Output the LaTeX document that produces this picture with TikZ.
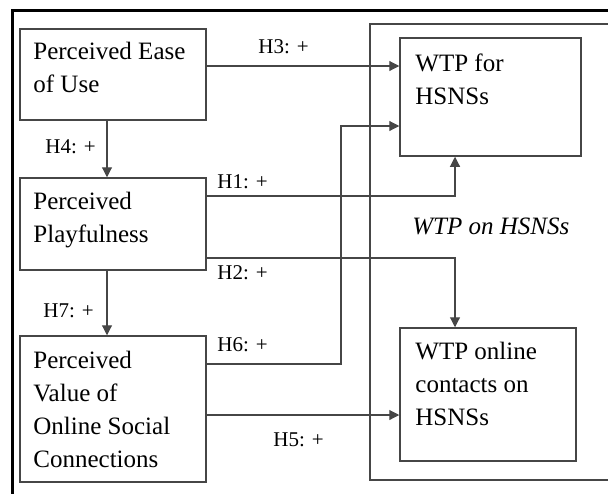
\documentclass[tikz,border=0pt]{standalone}
\usepackage{fontspec}
\setmainfont{Liberation Serif}
\usepackage{tikz}
\usetikzlibrary{arrows.meta, positioning, calc}
\definecolor{wtpline}{RGB}{70,70,70}

\tikzset{
  box/.style={draw=wtpline, line width=0.75pt, inner sep=0pt},
  txt/.style={inner sep=0pt, anchor=north west, align=left,
              font=\fontsize{12.5}{16.5}\selectfont},
  hyp/.style={inner sep=0pt, anchor=base west, font=\fontsize{10.5}{12}\selectfont},
  arr/.style={draw=wtpline, line width=0.55pt, -{Triangle[length=5pt,width=5pt]}}
}

\begin{document}
\begin{tikzpicture}[x=0.5pt, y=-0.5pt]
  \useasboundingbox (0,0) rectangle (608,493);
  \clip (0,0) rectangle (608,493);
  % outer frame and the WTP block
  \draw[line width=1.5pt, black] (12,10) rectangle (660,540);
  \draw[wtpline, line width=0.75pt] (370,24) rectangle (640,480);

  % constructs
  \node[box, minimum width=93pt, minimum height=45.5pt] (peu) at (113,74.5) {};
  \node[box, minimum width=93pt, minimum height=46pt] (pp) at (113,224) {};
  \node[box, minimum width=93pt, minimum height=73pt] (pvo) at (113,409) {};
  \node[box, minimum width=90.5pt, minimum height=59pt] (wfh) at (490.5,97) {};
  \node[box, minimum width=88pt, minimum height=66.5pt] (wol) at (488,394.5) {};

  \node[txt] (peutxt) at (33,42) {Perceived Ease\\of Use};
  \node[txt] (pptxt) at (33,192) {Perceived\\Playfulness};
  \node[txt] (pvotxt) at (33,350.5) {Perceived\\Value of\\Online Social\\Connections};
  \node[txt] (wfhtxt) at (415,53) {WTP for\\HSNSs};
  \node[txt] (woltxt) at (415,342) {WTP online\\contacts on\\HSNSs};
  \node[txt, anchor=base west, font=\fontsize{12.5}{16.5}\selectfont\itshape] (wtp) at (412,234) {WTP on HSNSs};

  % bends of the paths
  \coordinate (h3) at (300,66);
  \coordinate (h4) at (107,0);
  \coordinate (h1) at (455,196);
  \coordinate (h2) at (455,258);
  \coordinate (h6a) at (341,364);
  \coordinate (h6b) at (341,126);
  \coordinate (h5) at (300,415);

  % hypotheses
  \draw[arr] (peu.east |- h3) -- (wfh.west |- h3);
  \draw[arr] (peu.south -| h4) -- (pp.north -| h4);
  \draw[arr] (pp.east |- h1) -- (h1) -- (wfh.south -| h1);
  \draw[arr] (pp.east |- h2) -- (h2) -- (wol.north -| h2);
  \draw[arr] (pp.south -| h4) -- (pvo.north -| h4);
  \draw[arr] (pvo.east |- h6a) -- (h6a) -- (h6b) -- (wfh.west |- h6b);
  \draw[arr] (pvo.east |- h5) -- (wol.west |- h5);

  \node[hyp] (l3) at (258,53) {H3: +};
  \node[hyp] (l4) at (45,153) {H4: +};
  \node[hyp] (l1) at (217,188) {H1: +};
  \node[hyp] (l2) at (217,279) {H2: +};
  \node[hyp] (l7) at (43,317) {H7: +};
  \node[hyp] (l6) at (217,351) {H6: +};
  \node[hyp] (l5) at (273,446) {H5: +};
\end{tikzpicture}
\end{document}
